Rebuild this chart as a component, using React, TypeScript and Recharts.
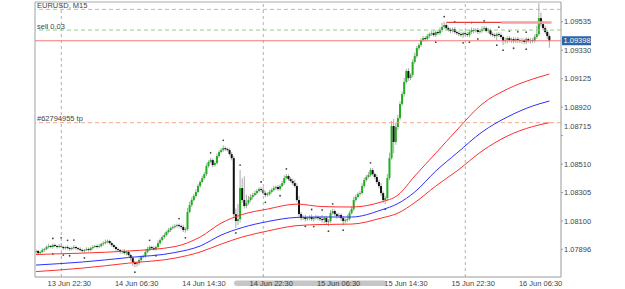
import { ComposedChart, Bar, Line, XAxis, YAxis, ReferenceLine } from 'recharts';

// EURUSD M15, bar 0 = 13 Jun 19:30
const firstOpen = 1.07877;
const closes = [
  1.07884, 1.07869, 1.07877, 1.07891, 1.07898, 1.07913, 1.0792, 1.07913, 1.07927, 1.0792,
  1.07913, 1.0792, 1.07913, 1.07905, 1.07913, 1.07905, 1.07898, 1.07905, 1.07913, 1.07905,
  1.07898, 1.07891, 1.07884, 1.07891, 1.07898, 1.07891, 1.07905, 1.07913, 1.0792, 1.07913,
  1.0792, 1.07934, 1.07941, 1.07949, 1.07956, 1.07941, 1.07927, 1.07913, 1.07898, 1.07891,
  1.07877, 1.07884, 1.07869, 1.07877, 1.07855, 1.07833, 1.07805, 1.0779, 1.07797, 1.07819,
  1.07841, 1.07848, 1.07877, 1.07898, 1.07913, 1.07905, 1.07898, 1.07913, 1.07941, 1.07963,
  1.07985, 1.07999, 1.08021, 1.08035, 1.08049, 1.08057, 1.08064, 1.08071, 1.08064, 1.08057,
  1.08035, 1.08042, 1.08165, 1.08215, 1.08251, 1.0828, 1.08309, 1.08352, 1.08381, 1.08409,
  1.08438, 1.08496, 1.08525, 1.08539, 1.08503, 1.08517, 1.08568, 1.08597, 1.08611, 1.08625,
  1.08618, 1.08611, 1.08582, 1.08553, 1.0815, 1.081, 1.08114, 1.08337, 1.08251, 1.08208,
  1.08229, 1.08251, 1.08273, 1.08287, 1.08301, 1.08316, 1.0833, 1.08323, 1.08301, 1.08287,
  1.08294, 1.08309, 1.08323, 1.08337, 1.08345, 1.0833, 1.08352, 1.08373, 1.08409, 1.08424,
  1.08402, 1.08388, 1.08373, 1.08352, 1.08251, 1.0815, 1.08121, 1.08129, 1.08114, 1.08121,
  1.08129, 1.08114, 1.08121, 1.08129, 1.08121, 1.08114, 1.08107, 1.08121, 1.08093, 1.081,
  1.08157, 1.08172, 1.0815, 1.08136, 1.08143, 1.08121, 1.081, 1.08107, 1.08114, 1.08157,
  1.08186, 1.08251, 1.08273, 1.08294, 1.08301, 1.08352, 1.08395, 1.08417, 1.08431, 1.08467,
  1.08438, 1.08417, 1.08381, 1.08352, 1.08301, 1.08251, 1.08265, 1.08409, 1.08553, 1.08784,
  1.08669, 1.08777, 1.08841, 1.08942, 1.09014, 1.09101, 1.0918, 1.09129, 1.09151, 1.09245,
  1.09288, 1.09345, 1.09367, 1.09403, 1.09417, 1.0941, 1.09432, 1.09446, 1.09453, 1.09439,
  1.09461, 1.09453, 1.09475, 1.09497, 1.09511, 1.09489, 1.09475, 1.09468, 1.09482, 1.09461,
  1.09453, 1.09446, 1.09439, 1.09453, 1.09446, 1.09439, 1.09461, 1.09475, 1.09468, 1.09475,
  1.09461, 1.09468, 1.09482, 1.09489, 1.09468, 1.09475, 1.09446, 1.09439, 1.09432, 1.09446,
  1.09439, 1.09425, 1.09396, 1.09403, 1.09417, 1.09403, 1.0941, 1.09396, 1.0941, 1.09403,
  1.09396, 1.09403, 1.09389, 1.0941, 1.09396, 1.09403, 1.09396, 1.09425, 1.09446, 1.09561,
  1.09518, 1.09489, 1.09461, 1.09432, 1.09398,
];
// wick lengths in points (0.00001)
const wickUp = [
  12, 8, 10, 14, 9, 11, 16, 8, 12, 10, 9, 15, 22, 10, 8, 12, 9, 11, 14, 10,
  8, 12, 10, 9, 13, 11, 10, 14, 9, 12, 16, 10, 13, 18, 11, 9, 12, 8, 10, 12,
  9, 11, 14, 10, 12, 9, 15, 11, 13, 18, 12, 10, 22, 16, 12, 10, 14, 11, 20, 13,
  12, 16, 11, 14, 10, 12, 13, 9, 11, 10, 15, 12, 30, 24, 18, 14, 20, 16, 12, 18,
  14, 20, 12, 16, 11, 13, 18, 12, 14, 20, 11, 10, 12, 14, 16, 40, 110, 130, 70, 170,
  60, 30, 20, 16, 18, 14, 12, 15, 20, 14, 12, 16, 13, 18, 11, 14, 12, 16, 20, 15,
  12, 14, 18, 24, 20, 30, 14, 12, 16, 10, 13, 18, 12, 15, 11, 14, 30, 12, 16, 14,
  22, 16, 12, 10, 14, 11, 15, 12, 30, 16, 20, 24, 18, 14, 16, 20, 18, 14, 22, 16,
  14, 12, 18, 16, 20, 12, 16, 30, 40, 36, 50, 30, 24, 20, 18, 30, 16, 20, 14, 18,
  22, 16, 14, 12, 15, 13, 16, 12, 14, 18, 12, 15, 20, 30, 24, 14, 12, 16, 11, 15,
  12, 14, 13, 11, 15, 12, 16, 18, 14, 12, 15, 13, 20, 16, 12, 14, 11, 13, 15, 12,
  14, 16, 12, 18, 13, 15, 11, 14, 12, 16, 13, 15, 12, 14, 11, 16, 13, 18, 60, 108,
  40, 22, 16, 14, 12,
];
const wickDn = [
  14, 12, 10, 8, 12, 9, 11, 10, 13, 8, 12, 9, 10, 14, 11, 9, 12, 10, 8, 13,
  11, 10, 12, 14, 9, 11, 10, 12, 8, 11, 9, 10, 12, 9, 11, 10, 13, 11, 12, 10,
  12, 14, 10, 16, 12, 20, 30, 22, 18, 14, 12, 10, 12, 9, 14, 11, 10, 12, 9, 11,
  10, 12, 9, 11, 14, 10, 12, 11, 13, 16, 14, 20, 12, 10, 14, 11, 12, 10, 13, 9,
  11, 14, 12, 10, 16, 12, 11, 13, 10, 12, 14, 11, 10, 16, 20, 50, 30, 24, 20, 18,
  16, 14, 12, 18, 11, 13, 10, 14, 12, 16, 11, 13, 12, 10, 14, 11, 12, 10, 13, 11,
  12, 10, 14, 12, 16, 20, 18, 14, 16, 12, 15, 13, 18, 12, 16, 14, 20, 24, 18, 30,
  14, 12, 16, 18, 15, 20, 30, 16, 14, 12, 10, 14, 12, 10, 16, 11, 14, 12, 10, 13,
  12, 16, 14, 18, 20, 22, 30, 16, 14, 12, 80, 20, 24, 16, 14, 18, 12, 20, 16, 14,
  12, 14, 16, 13, 12, 14, 11, 16, 13, 12, 15, 14, 12, 16, 13, 14, 12, 15, 11, 13,
  14, 16, 12, 20, 14, 12, 15, 13, 16, 11, 14, 12, 13, 15, 11, 16, 14, 12, 15, 30,
  14, 16, 30, 18, 24, 14, 20, 16, 13, 22, 15, 18, 14, 16, 12, 20, 14, 12, 14, 12,
  20, 16, 14, 22, 50,
];

// channel lines, read at these bars
const envIdx = [0, 22, 44, 66, 78, 88, 98, 110, 124, 136, 150, 164, 172, 180, 190, 200, 212, 224, 236, 244];
const envUpper = [1.07859, 1.07869, 1.07884, 1.07916, 1.07985, 1.08085, 1.08147, 1.08186, 1.08222, 1.08204, 1.08201, 1.08237, 1.08287, 1.08424, 1.08589, 1.08755, 1.08942, 1.0905, 1.09122, 1.09158];
const envMid = [1.07783, 1.07805, 1.07837, 1.07873, 1.0792, 1.07999, 1.08053, 1.08096, 1.08126, 1.08129, 1.08129, 1.08179, 1.08226, 1.08309, 1.0846, 1.08589, 1.08741, 1.08849, 1.08928, 1.08964];
const envLower = [1.07736, 1.07761, 1.07797, 1.07833, 1.07877, 1.07934, 1.07985, 1.08028, 1.08067, 1.08075, 1.08078, 1.08121, 1.08157, 1.08233, 1.08352, 1.0846, 1.08604, 1.08712, 1.0878, 1.08808];

const timeIdx = [12, 44, 76, 108, 140, 172, 204, 236];
const timeLabels = ['13 Jun 22:30', '14 Jun 06:30', '14 Jun 14:30', '14 Jun 22:30', '15 Jun 06:30', '15 Jun 14:30', '15 Jun 22:30', '16 Jun 06:30'];
const gridIdx = [12, 108, 204];
const priceTicks = [1.07896, 1.081, 1.08305, 1.0851, 1.08715, 1.0892, 1.09125, 1.0933, 1.09535];

const slPrice = 1.09624;
const orderPrice = 1.09475;
const bidPrice = 1.09398;
const tpPrice = 1.08808;
const tradePrice = 1.0953;
const tradeBars = [195, 221, 245];
const totalSlots = 250;
const yDomain = [1.07697, 1.09677];

const FONT = 'Liberation Sans, Arial, sans-serif';

const data = Array.from({ length: totalSlots }, (_, i) => {
  const row: any = { i };
  if (i < closes.length) {
    const o = i === 0 ? firstOpen : closes[i - 1];
    const c = closes[i];
    const h = Math.max(o, c) + wickUp[i] / 100000;
    const l = Math.min(o, c) - wickDn[i] / 100000;
    Object.assign(row, { o, c, h, l, range: [l, h] });
  }
  const k = envIdx.indexOf(i);
  if (k >= 0) {
    row.up = envUpper[k];
    row.mid = envMid[k];
    row.lo = envLower[k];
  }
  return row;
});

// fractals
for (let i = 2; i < closes.length - 2; i++) {
  const r = data[i];
  const n = [data[i - 2], data[i - 1], data[i + 1], data[i + 2]];
  if (n.every((d) => r.h > d.h)) r.fu = true;
  if (n.every((d) => r.l < d.l)) r.fd = true;
}

const Candle = (props: any) => {
  const { x, y, width, height, payload } = props;
  if (!payload || payload.h == null) return null;
  const { o, c, h, l } = payload;
  const top0 = Math.min(y, y + height);
  const hh = Math.abs(height);
  const k = h - l > 0 ? hh / (h - l) : 0;
  const py = (v: number) => top0 + (h - v) * k;
  const cx = x + width / 2;
  const bt = py(Math.max(o, c));
  const bb = py(Math.min(o, c));
  return (
    <g>
      <line x1={cx} x2={cx} y1={top0} y2={top0 + hh} stroke="#aaa" strokeWidth={1} />
      <rect x={cx - 1} y={bt} width={2} height={Math.max(bb - bt, 0.9)} fill={c >= o ? '#1faf1f' : '#111'} />
      {payload.fu && <circle cx={cx} cy={top0 - 5} r={0.9} fill="#444" />}
      {payload.fd && <circle cx={cx} cy={top0 + hh + 5} r={0.9} fill="#444" />}
    </g>
  );
};

const TimeTick = (props: any) => {
  const { x, y, payload } = props;
  const k = timeIdx.indexOf(payload.value);
  return (
    <g>
      {payload.value === 0 && <rect x={234} y={280.5} width={152} height={5.5} rx={2.7} fill="#c6c6c6" />}
      {k >= 0 && (
        <text x={x + 8} y={y + 8.7} textAnchor="middle" fontSize={7.5} fontFamily={FONT} fill="#444">
          {timeLabels[k]}
        </text>
      )}
    </g>
  );
};

const PriceTick = (props: any) => {
  const { x, y, payload } = props;
  // terminal pushes this label up, away from the tp line
  const nudge = payload.value === 1.08715 ? -9.5 : 0;
  return (
    <text x={x} y={y + 2.7 + nudge} textAnchor="start" fontSize={7.5} fontFamily={FONT} fill="#444">
      {payload.value.toFixed(5)}
    </text>
  );
};

const lineLabel = (text: string) => (p: any) => (
  <text x={p.viewBox.x + 2} y={p.viewBox.y - 1.5} fontSize={7.5} fontFamily={FONT} fill="#444">
    {text}
  </text>
);

const bidBox = (p: any) => {
  const bx = p.viewBox.x + p.viewBox.width + 1;
  const by = p.viewBox.y;
  return (
    <g>
      <rect x={bx} y={by - 4.5} width={29} height={9} fill="#2f62a6" />
      <text x={bx + 1.5} y={by + 2.7} fontSize={7.5} fontFamily={FONT} fill="#fff">
        {bidPrice.toFixed(5)}
      </text>
    </g>
  );
};

export default function App() {
  return (
    <div style={{ position: 'absolute', left: 0, top: 0, width: 625, height: 289, background: '#fff' }}>
      <ComposedChart
        width={625}
        height={289}
        data={data}
        margin={{ top: 2, right: 0, bottom: 0, left: 35 }}
        barCategoryGap={0}
        barGap={0}
        style={{ fontFamily: FONT }}
      >
        <XAxis
          dataKey="i"
          type="category"
          interval={0}
          height={12}
          tickLine={false}
          tickSize={0}
          tickMargin={0}
          axisLine={{ stroke: '#999' }}
          tick={<TimeTick />}
        />
        <YAxis
          orientation="right"
          width={64}
          domain={yDomain}
          allowDataOverflow
          ticks={priceTicks}
          tickSize={2}
          tickMargin={1}
          tickLine={{ stroke: '#999' }}
          axisLine={{ stroke: '#999' }}
          tick={<PriceTick />}
        />

        {/* frame + time grid */}
        <ReferenceLine y={yDomain[1]} stroke="#aaa" />
        <ReferenceLine x={0} position="start" stroke="#c0c0c0" strokeWidth={1.5} />
        {gridIdx.map((g) => (
          <ReferenceLine key={g} x={g} stroke="#b0b0b0" strokeDasharray="3 3" />
        ))}

        {/* order lines */}
        <ReferenceLine y={slPrice} stroke="#f5a58c" strokeDasharray="4 3" label={lineLabel('EURUSD, M15')} />
        <ReferenceLine y={orderPrice} stroke="#8fcf8f" strokeDasharray="4 3" label={lineLabel('sell 0.03')} />
        <ReferenceLine y={tpPrice} stroke="#f5a58c" strokeDasharray="4 3" label={lineLabel('#62794955 tp')} />
        <ReferenceLine y={bidPrice} stroke="#f47a7a" label={bidBox} />
        <ReferenceLine
          segment={[{ x: tradeBars[0], y: tradePrice }, { x: tradeBars[1], y: tradePrice }]}
          stroke="#e83c3c"
          strokeWidth={1.2}
        />
        <ReferenceLine
          segment={[{ x: tradeBars[1], y: tradePrice }, { x: tradeBars[2], y: tradePrice }]}
          stroke="#f5a0a0"
          strokeWidth={2.5}
        />

        <Line dataKey="up" type="monotone" stroke="#ff2f2f" strokeWidth={1} dot={false} connectNulls isAnimationActive={false} />
        <Line dataKey="mid" type="monotone" stroke="#2f2fff" strokeWidth={1} dot={false} connectNulls isAnimationActive={false} />
        <Line dataKey="lo" type="monotone" stroke="#ff2f2f" strokeWidth={1} dot={false} connectNulls isAnimationActive={false} />

        <Bar dataKey="range" shape={<Candle />} isAnimationActive={false} />
      </ComposedChart>
    </div>
  );
}
